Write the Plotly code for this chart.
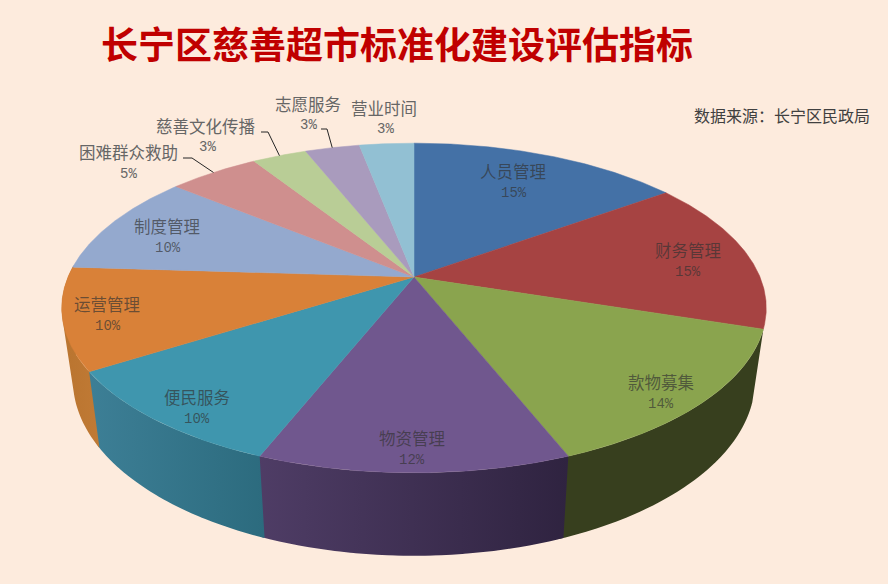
import numpy as np
import plotly.graph_objects as go

# 数据
names = ["人员管理", "财务管理", "款物募集", "物资管理", "便民服务", "运营管理",
         "制度管理", "困难群众救助", "慈善文化传播", "志愿服务", "营业时间"]
values = [15, 15, 14, 12, 10, 10, 10, 5, 3, 3, 3]

top_colors = ["#4471a6", "#a64342", "#8aa44e", "#70578e", "#3f96ae", "#d98138",
              "#94a9ce", "#cf8f8e", "#b9cd96", "#a99bbd", "#92c0d3"]
# 侧面渐变 左->右, None的是被挡住的
side_colors = [None, None, ("#373f1e", "#373f1e"), ("#4f3d66", "#2f2340"),
               ("#3d7f96", "#2c6b7e"), ("#b9742f", "#c07a35"),
               None, None, None, None, None]

# 标签中心
label_xy = [(513, 171), (688, 250), (661, 382), (412, 438), (197, 397), (107, 304),
            (167, 226), (128, 152), (206, 126), (308, 104), (384, 108)]
pct_xy = [(514, 193), (688, 272), (661, 404), (412, 460), (197, 419), (108, 326),
          (168, 248), (128, 174), (207, 147), (308, 125), (385, 129)]
# 引导线 起点,拐点 (终点算在饼边上)
leaders = {7: [(183, 158), (192, 158)], 8: [(261, 132), (268, 132)], 9: [(321, 129), (327, 129)]}

BG = "#fdebdd"
TILT = 0.188


# 圆周角度 -> 画面坐标
def project(theta, cx, cy, rx, ry):
    u = np.sin(theta)
    v = -np.cos(theta)
    w = 1 - TILT * v
    return cx + rx * u / w, cy + ry * v / w


def top_rim(theta):
    return project(theta, 414, 277, 346, 159)


def bottom_rim(theta):
    return project(theta, 414, 347, 335, 169.5)


total = sum(values)
edges = np.cumsum([0] + values) / total * 2 * np.pi

fig = go.Figure()

# 侧面 一条条小四边形拼起来,方向要统一,否则左边拐角处重叠的地方会抵消
for i in range(len(values)):
    if side_colors[i] is None:
        continue
    # 多画一点点盖住和下一块之间的缝
    t = np.linspace(edges[i], edges[i + 1] + 0.012, 60)
    x1, y1 = top_rim(t)
    x2, y2 = bottom_rim(t)
    xs = []
    ys = []
    for k in range(len(t) - 2):
        qx = [x1[k], x1[k + 2], x2[k + 2], x2[k]]
        qy = [y1[k], y1[k + 2], y2[k + 2], y2[k]]
        area = sum(qx[j] * qy[(j + 1) % 4] - qx[(j + 1) % 4] * qy[j] for j in range(4))
        if area < 0:
            qx.reverse()
            qy.reverse()
        xs += qx + [qx[0], None]
        ys += qy + [qy[0], None]
    c1, c2 = side_colors[i]
    fig.add_trace(go.Scatter(
        x=xs,
        y=ys,
        mode="lines",
        fill="toself",
        fillgradient=dict(type="horizontal", colorscale=[[0, c1], [1, c2]]),
        line=dict(width=0),
        hoverinfo="skip",
    ))

# 顶面
for i in range(len(values)):
    t = np.linspace(edges[i], edges[i + 1], 120)
    x, y = top_rim(t)
    fig.add_trace(go.Scatter(
        x=np.concatenate([[414], x, [414]]),
        y=np.concatenate([[277], y, [277]]),
        mode="lines",
        fill="toself",
        fillcolor=top_colors[i],
        line=dict(width=0.5, color=top_colors[i]),
        hoverinfo="skip",
    ))

# 引导线
for i, pts in leaders.items():
    ex, ey = top_rim((edges[i] + edges[i + 1]) / 2)
    fig.add_trace(go.Scatter(
        x=[pts[0][0], pts[1][0], ex],
        y=[pts[0][1], pts[1][1], ey],
        mode="lines",
        line=dict(width=1, color="#262626"),
        hoverinfo="skip",
    ))

# 标签
for i in range(len(values)):
    outside = i >= 7
    color = "#666666" if outside else "rgba(50,50,50,0.66)"
    fig.add_annotation(x=label_xy[i][0], y=label_xy[i][1], text=names[i], showarrow=False,
                       font=dict(family="Noto Sans CJK SC", size=16.5, color=color))
    fig.add_annotation(x=pct_xy[i][0], y=pct_xy[i][1], text="{}%".format(round(values[i] / total * 100)),
                       showarrow=False, font=dict(family="Liberation Mono", size=14, color=color))

fig.add_annotation(x=396.5, y=43, text="<b>长宁区慈善超市标准化建设评估指标</b>", showarrow=False,
                   font=dict(family="Noto Sans CJK SC", size=37, color="#c00000"))
fig.add_annotation(x=782, y=115, text="数据来源\uff1a长宁区民政局", showarrow=False,
                   font=dict(family="Noto Sans CJK SC", size=16, color="#404040"))

fig.update_layout(
    width=888,
    height=584,
    margin=dict(l=0, r=0, t=0, b=0),
    paper_bgcolor=BG,
    plot_bgcolor=BG,
    showlegend=False,
    xaxis=dict(range=[0, 888], visible=False, fixedrange=True),
    yaxis=dict(range=[584, 0], visible=False, fixedrange=True),
)

fig.write_html("out.html", config={"displayModeBar": False},
               post_script="document.body.style.margin='0';document.body.style.background='" + BG + "';")
